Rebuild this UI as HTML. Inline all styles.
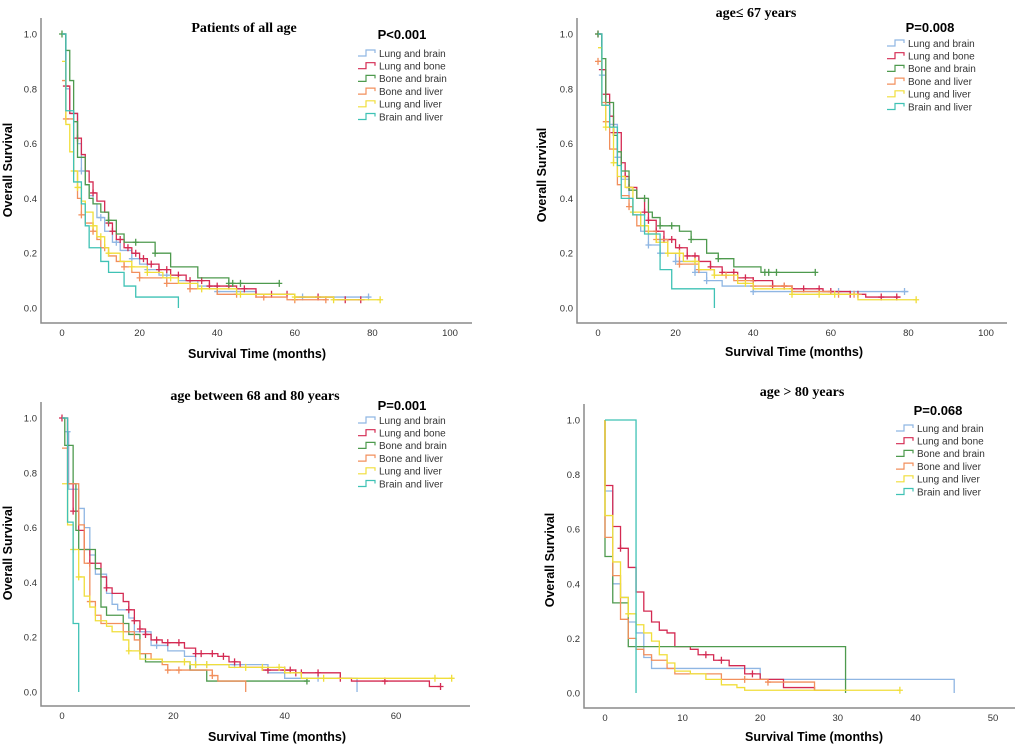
<!DOCTYPE html>
<html><head><meta charset="utf-8">
<style>
html,body{margin:0;padding:0;background:#fff;}
svg{display:block;font-family:"Liberation Sans",sans-serif;}
.tick{font-size:9.5px;fill:#333;}
.ttl{font-family:"Liberation Serif",serif;font-weight:bold;font-size:14px;fill:#000;}
.axt{font-weight:bold;font-size:12.5px;fill:#000;}
.pv{font-weight:bold;font-size:13px;fill:#000;}
.leg{font-size:10px;fill:#333;}
</style></head><body>
<svg id="chart" width="1020" height="753" viewBox="0 0 1020 753"></svg>
<script>
const seriesNames = ["Lung and brain","Lung and bone","Bone and brain","Bone and liver","Lung and liver","Brain and liver"];
const seriesColors = ["#8fb6e3","#d42a52","#4e9a4e","#f28f5c","#f0de3a","#3fc2b5"];
const panelTitles = ["Patients of all age","age\u2264 67 years","age between 68 and 80 years","age > 80 years"];
const pValues = ["P<0.001","P=0.008","P=0.001","P=0.068"];
const xTicks1 = [0,20,40,60,80,100];
const xTicks2 = [0,20,40,60,80,100];
const xTicks3 = [0,20,40,60];
const xTicks4 = [0,10,20,30,40,50];
const yTicks = [0,0.2,0.4,0.6,0.8,1.0];

// Panel 1 curves [time, survival]
const p1_lungBrain = [[0,1],[1,0.8],[2,0.71],[4,0.6],[5,0.5],[6,0.45],[7,0.41],[8,0.38],[9,0.33],[11,0.28],[13,0.24],[15,0.21],[18,0.18],[20,0.16],[22,0.14],[25,0.12],[30,0.1],[35,0.08],[40,0.06],[50,0.05],[60,0.04],[79,0.04]];
const p1_lungBone = [[0,1],[1,0.81],[2,0.71],[4,0.62],[5,0.56],[6,0.5],[7,0.46],[8,0.42],[9,0.39],[11,0.35],[12,0.31],[13,0.28],[14,0.25],[16,0.22],[18,0.2],[20,0.18],[22,0.16],[25,0.14],[28,0.12],[32,0.1],[38,0.08],[45,0.07],[50,0.05],[60,0.04],[70,0.03],[78,0.03]];
const p1_boneBrain = [[0,1],[1,0.94],[2,0.83],[3,0.68],[4,0.55],[6,0.45],[7,0.4],[8,0.38],[10,0.35],[12,0.32],[14,0.27],[16,0.24],[24,0.2],[28,0.15],[35,0.11],[43,0.09],[56,0.09]];
const p1_boneLiver = [[0,0.83],[1,0.69],[3,0.5],[4,0.4],[5,0.34],[6,0.31],[8,0.28],[9,0.25],[10,0.22],[12,0.19],[14,0.17],[16,0.15],[18,0.13],[20,0.11],[27,0.09],[33,0.07],[40,0.05],[50,0.04],[58,0.03],[68,0.03]];
const p1_lungLiver = [[0,0.9],[1,0.67],[2,0.57],[3,0.5],[4,0.44],[5,0.39],[6,0.35],[8,0.3],[9,0.26],[11,0.22],[12,0.2],[15,0.17],[18,0.15],[22,0.13],[26,0.11],[30,0.09],[35,0.07],[45,0.05],[60,0.04],[70,0.03],[82,0.03]];
const p1_brainLiver = [[0,1],[1,0.72],[3,0.46],[5,0.38],[6,0.3],[7,0.22],[10,0.17],[12,0.13],[16,0.08],[19,0.04],[30,0.04],[30,0]];
const p1_censor = [[5,10,14,18,22,27,40,62,79],[1,4,8,12,13,15,17,19,21,23,25,27,30,33,36,38,40,43,47,50,54,58,66,73,77],[0,12,19,24,43,44,46,56],[1,5,8,11,16,20,27,33,45,52,60,68],[3,4,8,10,12,18,22,28,36,46,60,70,82],[]];

// Panel 2
const p2_lungBrain = [[0,1],[1,0.85],[2,0.74],[3,0.67],[5,0.55],[6,0.47],[8,0.4],[9,0.34],[11,0.28],[13,0.23],[16,0.2],[20,0.17],[25,0.13],[28,0.1],[32,0.08],[40,0.06],[80,0.06]];
const p2_lungBone = [[0,1],[1,0.87],[2,0.78],[3,0.7],[4,0.64],[6,0.53],[7,0.48],[8,0.44],[10,0.4],[12,0.35],[13,0.32],[15,0.28],[17,0.25],[20,0.22],[23,0.19],[26,0.17],[29,0.15],[32,0.13],[36,0.11],[40,0.1],[45,0.08],[50,0.07],[58,0.06],[65,0.05],[69,0.04],[78,0.04]];
const p2_boneBrain = [[0,1],[1,0.91],[2,0.75],[4,0.63],[5,0.57],[6,0.5],[8,0.43],[10,0.4],[13,0.35],[14,0.33],[16,0.3],[21,0.28],[24,0.25],[28,0.2],[31,0.18],[35,0.15],[42,0.13],[56,0.13]];
const p2_boneLiver = [[0,0.9],[1,0.75],[2,0.68],[3,0.58],[5,0.45],[6,0.41],[8,0.37],[9,0.34],[10,0.3],[12,0.28],[15,0.25],[18,0.2],[21,0.16],[26,0.14],[30,0.12],[35,0.1],[40,0.08],[50,0.06],[60,0.05],[68,0.05]];
const p2_lungLiver = [[0,0.95],[1,0.74],[2,0.66],[4,0.53],[5,0.48],[7,0.44],[9,0.35],[11,0.3],[13,0.27],[15,0.24],[18,0.2],[22,0.17],[26,0.14],[30,0.12],[36,0.09],[40,0.07],[50,0.05],[67,0.03],[82,0.03]];
const p2_brainLiver = [[0,1],[1,0.74],[3,0.66],[5,0.52],[6,0.4],[9,0.34],[12,0.27],[16,0.2],[16,0.14],[19,0.07],[30,0.07],[30,0]];
const p2_censor = [[1,5,13,16,20,25,28,40,62,79],[0,1,2,4,7,8,12,13,15,17,19,21,23,25,29,32,35,38,40,45,48,50,53,57,60,65,67,73,77],[0,12,16,19,24,31,43,44,46,56],[0,2,8,15,21,26,33,40,48,62,66],[2,4,9,12,18,21,25,30,38,50,57,61,82],[]];

// Panel 3
const p3_lungBrain = [[0,1],[1,0.95],[1.2,0.74],[3,0.67],[4,0.6],[5,0.5],[6,0.43],[8,0.36],[9,0.32],[10,0.3],[12,0.27],[13,0.22],[16,0.17],[19,0.15],[22,0.13],[24,0.1],[37,0.09],[37,0.07],[40,0.05],[53,0.05],[53,0]];
const p3_lungBone = [[0,1],[1,0.76],[2,0.66],[3,0.59],[4,0.52],[5,0.47],[7,0.42],[8,0.38],[9,0.36],[11,0.33],[12,0.3],[13,0.26],[14,0.23],[15,0.21],[16,0.19],[18,0.18],[22,0.16],[24,0.14],[28,0.13],[30,0.11],[32,0.09],[36,0.08],[42,0.07],[50,0.05],[52,0.04],[66,0.02],[68,0.02]];
const p3_boneBrain = [[0,1],[0.5,0.9],[2,0.76],[2.5,0.59],[3,0.52],[6,0.45],[7,0.31],[8,0.28],[11,0.25],[12,0.21],[14,0.14],[15,0.11],[23,0.08],[26,0.04],[44,0.04]];
const p3_boneLiver = [[0,0.89],[1,0.76],[3,0.61],[4,0.47],[5,0.33],[6,0.28],[7,0.25],[11,0.22],[13,0.19],[14,0.14],[16,0.12],[18,0.1],[19,0.08],[27,0.06],[28,0.04],[33,0.04],[33,0]];
const p3_lungLiver = [[0,0.76],[1,0.61],[2,0.52],[3,0.42],[4,0.35],[5,0.31],[6,0.26],[8,0.24],[9,0.22],[11,0.19],[12,0.15],[14,0.12],[18,0.11],[23,0.1],[30,0.09],[40,0.07],[43,0.05],[70,0.05]];
const p3_brainLiver = [[0,1],[1,0.62],[2,0.25],[3,0]];
const p3_censor = [[1,17,24,26,31,46],[0,2,5,8,12,13,14,15,17,19,21,24,25,27,29,31,37,40,41,42,43,46,50,58,68],[44],[5,19,21,27],[2,3,12,22,24,26,33,36,39,47,67,70],[]];

// Panel 4
const p4_lungBrain = [[0,1],[0,0.74],[1,0.4],[2,0.35],[3,0.26],[4,0.22],[5,0.13],[6,0.09],[20,0.05],[45,0.05],[45,0]];
const p4_lungBone = [[0,1],[0,0.76],[1,0.61],[2,0.53],[3,0.46],[4,0.37],[5,0.3],[6,0.26],[7,0.23],[8,0.22],[9,0.17],[11,0.16],[12,0.14],[14,0.12],[16,0.1],[18,0.07],[20,0.05],[23,0.02],[27,0.01],[29,0.01]];
const p4_boneBrain = [[0,1],[0,0.5],[1,0.33],[3,0.17],[31,0.17],[31,0]];
const p4_boneLiver = [[0,1],[0,0.57],[1,0.43],[2,0.27],[3,0.2],[4,0.16],[5,0.14],[6,0.12],[8,0.09],[9,0.07],[15,0.05],[21,0.04],[27,0.01],[29,0.01]];
const p4_lungLiver = [[0,1],[0,0.65],[1,0.48],[2,0.35],[3,0.29],[4,0.25],[5,0.22],[6,0.19],[7,0.14],[8,0.11],[9,0.08],[11,0.07],[13,0.05],[15,0.03],[17,0.02],[18,0.01],[38,0.01]];
const p4_brainLiver = [[0,1],[4,1],[4,0]];
const p4_censor = [[],[2,13,15,19],[],[18,21],[3,38],[]];

const panels = [
 {curves:[p1_lungBrain,p1_lungBone,p1_boneBrain,p1_boneLiver,p1_lungLiver,p1_brainLiver],censor:p1_censor,xTicks:xTicks1,xMax:100,
  g:{ax:41,top:18,bot:323,right:472,x0:62,x1:450,y1:34,y0:308,tx:244,ty:32,px:402,py:39,lx:358,ly:53,xtx:257,xty:358,ytx:12,yty:170}},
 {curves:[p2_lungBrain,p2_lungBone,p2_boneBrain,p2_boneLiver,p2_lungLiver,p2_brainLiver],censor:p2_censor,xTicks:xTicks2,xMax:100,
  g:{ax:577,top:18,bot:323,right:1007,x0:598,x1:986,y1:34,y0:308,tx:756,ty:17,px:930,py:32,lx:887,ly:43,xtx:794,xty:356,ytx:546,yty:175}},
 {curves:[p3_lungBrain,p3_lungBone,p3_boneBrain,p3_boneLiver,p3_lungLiver,p3_brainLiver],censor:p3_censor,xTicks:xTicks3,xMax:60,
  g:{ax:41,top:402,bot:706,right:470,x0:62,x1:396,y1:418,y0:692,tx:255,ty:400,px:402,py:410,lx:358,ly:420,xtx:277,xty:741,ytx:12,yty:553}},
 {curves:[p4_lungBrain,p4_lungBone,p4_boneBrain,p4_boneLiver,p4_lungLiver,p4_brainLiver],censor:p4_censor,xTicks:xTicks4,xMax:50,
  g:{ax:584,top:404,bot:708,right:1015,x0:605,x1:993,y1:420,y0:693,tx:802,ty:396,px:938,py:415,lx:896,ly:428,xtx:814,xty:741,ytx:554,yty:560}}
];
const NS="http://www.w3.org/2000/svg";
const svg=document.getElementById('chart');
function mk(tag,attrs,parent,text){const e=document.createElementNS(NS,tag);for(const k in attrs)e.setAttribute(k,attrs[k]);if(text!==undefined)e.textContent=text;parent.appendChild(e);return e;}
function survAt(c,t){let s=c[0][1];for(const p of c){if(p[0]<=t)s=p[1];}return s;}
panels.forEach((P,pi)=>{
  const g=P.g;
  const xs=v=>g.x0+(v/P.xMax)*(g.x1-g.x0);
  const ys=v=>g.y0-v*(g.y0-g.y1);
  const grp=mk('g',{},svg);
  
  
  const t=mk('text',{x:g.tx,y:g.ty,'text-anchor':'middle',class:'ttl'},grp,panelTitles[pi]);
  
  
  const ax=mk('path',{d:`M${g.ax},${g.top}V${g.bot}H${g.right}`,fill:'none',stroke:'#8a8a8a','stroke-width':1.5},grp);
  
  
  yTicks.forEach(v=>{const e=mk('text',{x:g.ax-4,y:ys(v)+3.5,'text-anchor':'end',class:'tick'},grp,v.toFixed(1));
    
    });
  P.xTicks.forEach(v=>{const e=mk('text',{x:xs(v),y:g.bot+13,'text-anchor':'middle',class:'tick'},grp,String(v));
    
    });
  const xt=mk('text',{x:g.xtx,y:g.xty,'text-anchor':'middle',class:'axt'},grp,'Survival Time (months)');
  
  
  const yt=mk('text',{x:g.ytx,y:g.yty,'text-anchor':'middle',class:'axt',transform:`rotate(-90 ${g.ytx} ${g.yty})`},grp,'Overall Survival');
  
  
  P.curves.forEach((c,si)=>{
    let d=`M${xs(c[0][0])},${ys(c[0][1])}`;
    for(let i=1;i<c.length;i++){d+=`H${xs(c[i][0])}V${ys(c[i][1])}`;}
    const l=mk('path',{d,fill:'none',stroke:seriesColors[si],'stroke-width':1.3},grp);
    
    
    P.censor[si].forEach(tm=>{
      const cx=xs(tm),cy=ys(survAt(c,tm));
      const m=mk('path',{d:`M${cx-3},${cy}H${cx+3}M${cx},${cy-3.5}V${cy+3.5}`,stroke:seriesColors[si],'stroke-width':1.3},grp);
      
      
    });
  });
  const pv=mk('text',{x:g.px,y:g.py,'text-anchor':'middle',class:'pv'},grp,pValues[pi]);
  
  
  seriesNames.forEach((n,si)=>{
    const y=g.ly+si*12.7;
    const lg=mk('g',{},grp);
    
    
    mk('path',{d:`M${g.lx},${y+3}H${g.lx+8}V${y-3}H${g.lx+17}V${y}`,fill:'none',stroke:seriesColors[si],'stroke-width':1.2},lg);
    mk('text',{x:g.lx+21,y:y+3.8,class:'leg'},lg,n);
  });
});
</script>
</body></html>
